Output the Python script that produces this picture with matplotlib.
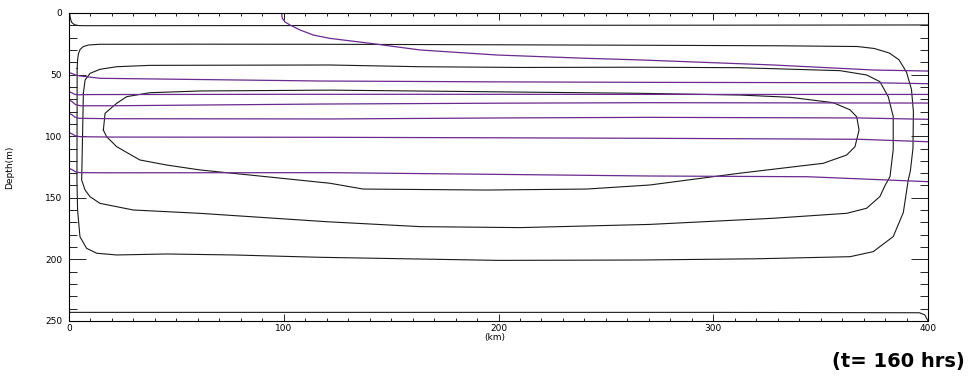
import numpy as np
import matplotlib.pyplot as plt
from matplotlib.ticker import MultipleLocator

# black contours (km, depth m)
outer_top_x = [0.3, 0.6, 1.2, 2.5, 4.5, 8, 100, 200, 300, 400]
outer_top_d = [0, 4, 7.5, 9.5, 10.2, 10.3, 10.2, 10.0, 9.9, 9.7]

outer_bot_x = [0, 100, 200, 300, 396, 398.5, 400]
outer_bot_d = [243, 243, 243, 243, 243.3, 245, 250]

loopA_x = [3.8, 4.0, 4.4, 5.2, 6.6, 9.0, 14, 60, 120, 200, 270, 330, 367,
           375, 382, 386.5, 390, 392.3, 393.2, 393, 391.8, 390.8, 388.5,
           383.8, 374.5, 363.7, 320, 266, 200, 117, 76.5, 45.5, 22.2, 12.9,
           8.2, 5.1, 4.0, 3.7, 3.8]
loopA_d = [45, 38, 33, 29.5, 27.3, 26, 25.4, 25.3, 25.4, 25.8, 26.2, 26.6,
           27.2, 28.8, 32.5, 38, 48, 62, 80, 110, 128, 135.6, 162, 181.5,
           193.7, 197.8, 199.5, 200.5, 200.8, 198.3, 196.4, 195.6, 196.4,
           195, 191, 181.6, 160, 135.6, 45]

loopB_x = [6.7, 7.5, 9.8, 14.4, 22.2, 37.7, 121.5, 163.4, 210, 266, 312.5,
           359, 371.4, 377.6, 381.5, 383.8, 383.8, 382.3, 380, 377.6, 371.4,
           362.1, 328, 270.5, 210, 163.4, 119.9, 60.9, 29.9, 14.4, 9.8, 7.5,
           5.9, 6.3, 6.7]
loopB_d = [65, 54.4, 49, 45.7, 43.6, 42.5, 42.2, 43.6, 44.2, 44.0, 44.4,
           46.8, 50.3, 55.7, 68, 84, 111, 132.8, 140, 149, 158.5, 162.6,
           166.6, 171.6, 174.2, 173.4, 169.4, 162.6, 159.9, 154.5, 149.1,
           143.7, 135.6, 100, 65]

loopC_x = [16.0, 17.5, 22.2, 33, 45.5, 61, 92, 121.5, 137, 194.5, 241, 270.5,
           312.5, 351.2, 362.1, 366, 367.9, 366.8, 363.7, 355.9, 335.7, 312.5,
           266, 194.5, 121.5, 61, 37.7, 26.9, 22.2, 16.8, 16.0]
loopC_d = [95, 100.4, 108.5, 119.3, 123.4, 127.4, 132.9, 138.2, 142.9, 143.7,
           142.9, 139.6, 130, 122, 115.3, 108.5, 95, 84.2, 78.6, 72.8, 68.4,
           66.6, 65.2, 63.9, 62.6, 63.3, 64.7, 67.9, 73.3, 81.4, 95]

# purple isopycnals (km, depth m)
p1_x = [99.0, 99.3, 100.5, 102.9, 107.6, 113.8, 121.5, 140.2, 163.4, 199.3,
        241.2, 266, 328, 375, 400]
p1_d = [0, 4.3, 7.2, 9.7, 13.8, 17.9, 20.6, 24.6, 30, 34.1, 36.8, 38.1,
        42.2, 46.3, 47.1]
p2_x = [0, 1.5, 3, 5.1, 14.4, 117, 200, 270.5, 375, 400]
p2_d = [48.4, 49.2, 50.3, 51.1, 53, 55.2, 55.9, 56.3, 56.6, 57.4]
p3_x = [0, 1.2, 2.4, 3.6, 10, 100, 200, 300, 400]
p3_d = [63.9, 64.7, 65.8, 66.4, 66.2, 66.0, 66.0, 66.1, 66.1]
p4_x = [0, 1.5, 3, 5.1, 20, 117, 200, 270, 400]
p4_d = [70.6, 72.0, 74.3, 75.3, 75.3, 73.9, 73.2, 72.8, 73.1]
p5_x = [0, 1.4, 2.8, 4.8, 20, 122, 200, 270, 368, 400]
p5_d = [81.4, 82.6, 84.6, 85.5, 85.8, 86, 85.2, 84.7, 85.2, 86.3]
p6_x = [0, 1.5, 3, 5.1, 20, 122, 200, 270, 368, 400]
p6_d = [97.1, 98.2, 99.7, 100.4, 100.7, 100.9, 101.3, 101.7, 102.5, 104.5]
p7_x = [0, 1.5, 3, 5.1, 20, 122, 195, 270, 344, 400]
p7_d = [126.1, 127.2, 128.9, 129.6, 129.7, 129.6, 130.9, 132.3, 132.9, 136.9]

black_lines = [(outer_top_x, outer_top_d), (outer_bot_x, outer_bot_d),
               (loopA_x, loopA_d), (loopB_x, loopB_d), (loopC_x, loopC_d)]
purple_lines = [(p1_x, p1_d), (p2_x, p2_d), (p3_x, p3_d), (p4_x, p4_d),
                (p5_x, p5_d), (p6_x, p6_d), (p7_x, p7_d)]

fig = plt.figure(figsize=(9.71, 3.79), dpi=100)
ax = fig.add_axes([69 / 971, 1 - 321 / 379, 859 / 971, 308 / 379])

for x, d in black_lines:
    ax.plot(x, d, color='#1a1a1a', lw=0.8, solid_joinstyle='round')
for x, d in purple_lines:
    ax.plot(x, d, color='#6a2a90', lw=0.9)

ax.set_xlim(0, 400)
ax.set_ylim(250, 0)
ax.xaxis.set_major_locator(MultipleLocator(100))
ax.xaxis.set_minor_locator(MultipleLocator(10))
ax.yaxis.set_major_locator(MultipleLocator(50))
ax.yaxis.set_minor_locator(MultipleLocator(10))
ax.tick_params(axis='x', which='both', direction='in', top=True, labelsize=6.5,
               pad=2, width=0.6)
ax.tick_params(axis='x', which='major', length=5)
ax.tick_params(axis='x', which='minor', length=2.5)
ax.tick_params(axis='y', which='both', direction='in', right=True, labelsize=6.5,
               pad=5, width=0.6)
ax.tick_params(axis='y', which='major', length=12)
ax.tick_params(axis='y', which='minor', length=6)
for s in ax.spines.values():
    s.set_linewidth(0.8)

ax.set_xlabel('(km)', fontsize=6.5)
ax.xaxis.set_label_coords(0.496, -0.04)
ax.set_ylabel('Depth(m)', fontsize=6.5)
ax.yaxis.set_label_coords(-0.064, 0.5)

fig.text(965 / 971, 1 - 361 / 379, '(t= 160 hrs)', ha='right', va='center',
         fontsize=14, fontweight='bold')

fig.savefig('out.png', dpi=100)
